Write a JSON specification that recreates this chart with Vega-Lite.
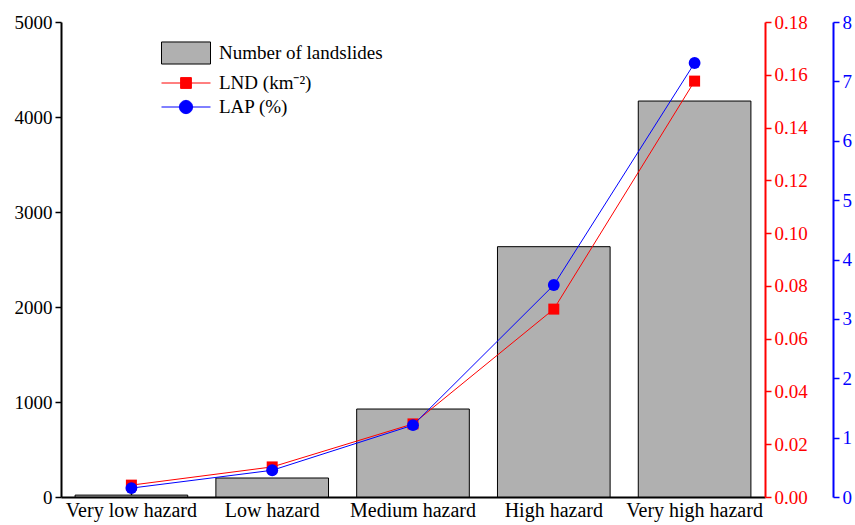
{
  "$schema": "https://vega.github.io/schema/vega-lite/v6.json",
  "autosize": {"type": "none"},
  "padding": {"left": 61, "top": 22, "right": 90, "bottom": 28},
  "width": 704,
  "height": 475,
  "background": "white",
  "config": {
    "view": {"stroke": null},
    "font": "Liberation Serif",
    "axis": {"grid": false, "labelFont": "Liberation Serif", "labelFontSize": 19, "titleFont": "Liberation Serif"},
    "legend": {"labelFont": "Liberation Serif", "labelFontSize": 19, "labelLimit": 400, "padding": 0}
  },
  "data": {
    "values": [
      {"zone": "Very low hazard", "count": 20, "LND": 0.0045, "LAP": 0.15},
      {"zone": "Low hazard", "count": 200, "LND": 0.0114, "LAP": 0.45},
      {"zone": "Medium hazard", "count": 926, "LND": 0.0277, "LAP": 1.21},
      {"zone": "High hazard", "count": 2635, "LND": 0.0712, "LAP": 3.57},
      {"zone": "Very high hazard", "count": 4168, "LND": 0.1576, "LAP": 7.31}
    ]
  },
  "encoding": {
    "x": {
      "field": "zone", "type": "nominal", "sort": null,
      "scale": {"paddingInner": 0.2, "paddingOuter": 0.1},
      "axis": {"title": null, "labelAngle": 0, "labelColor": "black", "domainColor": "black", "domainWidth": 2, "tickColor": "black", "tickSize": -5, "tickWidth": 1.5, "labelPadding": 8, "labelFontSize": 20}
    }
  },
  "layer": [
    {
      "mark": {"type": "bar", "stroke": "black", "strokeWidth": 1},
      "encoding": {
        "y": {
          "field": "count", "type": "quantitative",
          "scale": {"domain": [0, 5000], "nice": false},
          "axis": {"title": null, "orient": "left", "format": "d", "values": [0, 1000, 2000, 3000, 4000, 5000], "domainColor": "black", "domainWidth": 2, "tickColor": "black", "tickSize": 6, "tickWidth": 1.5, "labelColor": "black", "labelPadding": 3}
        },
        "fill": {
          "datum": "Number of landslides",
          "scale": {"range": ["#b0b0b0"]},
          "legend": {
            "title": null, "orient": "none", "legendX": 100, "legendY": 19,
            "symbolType": "M-1,-0.45L1,-0.45L1,0.45L-1,0.45Z",
            "symbolSize": 2401, "symbolStrokeColor": "black", "symbolStrokeWidth": 1,
            "clipHeight": 24,
            "labelFontSize": 19, "labelOffset": 8
          }
        }
      }
    },
    {
      "encoding": {
        "y": {
          "field": "LND", "type": "quantitative",
          "scale": {"domain": [0, 0.18], "nice": false},
          "axis": {"title": null, "orient": "right", "format": ".2f", "values": [0, 0.02, 0.04, 0.06, 0.08, 0.1, 0.12, 0.14, 0.16, 0.18], "domainColor": "red", "domainWidth": 2, "tickColor": "red", "tickSize": 6, "tickWidth": 1.5, "labelColor": "red", "labelPadding": 3}
        },
        "color": {
          "datum": "LND (km⁻²)",
          "scale": {"domain": ["LND (km⁻²)", "LAP (%)"], "range": ["red", "blue"]},
          "legend": {
            "title": null, "orient": "none", "legendX": 100, "legendY": 50,
            "rowPadding": 2, "labelOffset": 8, "labelFontSize": 19,
            "symbolSize": 2401, "clipHeight": 22,
            "encode": {
              "symbols": {
                "update": {
                  "shape": {"signal": "datum.value === 'LAP (%)' ? 'M-1,0L1,0M-0.27,0A0.27,0.27 0 1,1 0.27,0A0.27,0.27 0 1,1 -0.27,0Z' : 'M-1,0L1,0M-0.22,-0.22L0.22,-0.22L0.22,0.22L-0.22,0.22Z'"},
                  "fill": {"scale": "color", "field": "value"},
                  "stroke": {"scale": "color", "field": "value"},
                  "strokeWidth": {"value": 1},
                  "size": {"value": 2401},
                  "opacity": {"value": 1},
                  "fillOpacity": {"value": 1},
                  "strokeOpacity": {"value": 1}
                }
              }
            }
          }
        }
      },
      "layer": [
        {"mark": {"type": "line", "strokeWidth": 1}},
        {"mark": {"type": "point", "filled": true, "opacity": 1, "size": 121, "shape": "square"}}
      ]
    },
    {
      "encoding": {
        "y": {
          "field": "LAP", "type": "quantitative",
          "scale": {"domain": [0, 8], "nice": false},
          "axis": {"title": null, "orient": "right", "offset": 68, "values": [0, 1, 2, 3, 4, 5, 6, 7, 8], "domainColor": "blue", "domainWidth": 2, "tickColor": "blue", "tickSize": 6, "tickWidth": 1.5, "labelColor": "blue", "labelPadding": 3}
        },
        "color": {"datum": "LAP (%)"}
      },
      "layer": [
        {"mark": {"type": "line", "strokeWidth": 1}},
        {"mark": {"type": "point", "filled": true, "opacity": 1, "size": 140, "shape": "circle"}}
      ]
    }
  ],
  "resolve": {"scale": {"y": "independent"}}
}
